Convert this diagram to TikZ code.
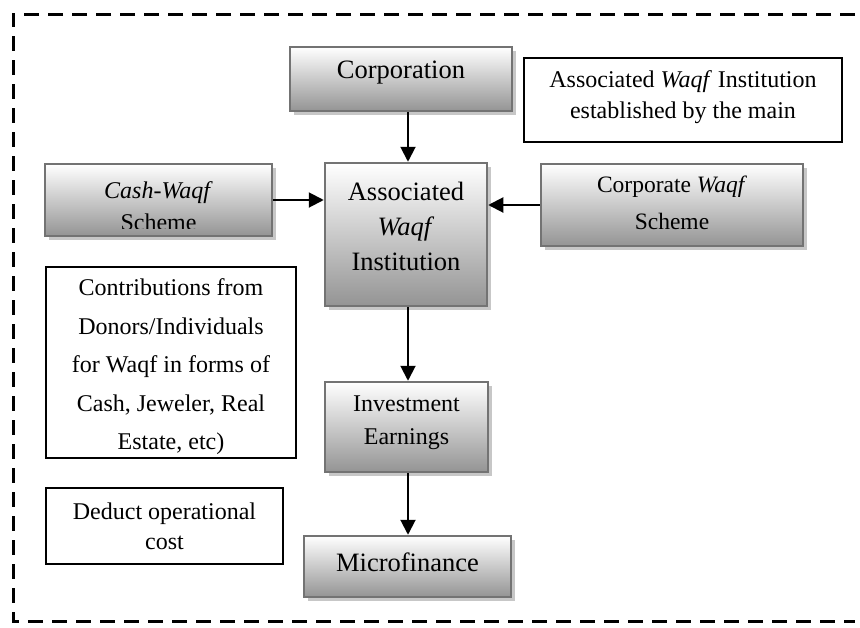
\documentclass[tikz,border=0pt]{standalone}
\usepackage{fontspec}
\setmainfont{Liberation Serif}
\usetikzlibrary{arrows.meta,shadows}
\begin{document}
\begin{tikzpicture}[x=1pt,y=-1pt,
  gbox/.style={draw=black!55, line width=2.5pt, top color=white, bottom color=black!42,
    drop shadow={shadow xshift=4pt,shadow yshift=-4pt,fill=black!22,opacity=1},
    inner sep=0pt},
  wbox/.style={draw=black, line width=1.8pt, fill=white, inner sep=0pt},
  txt/.style={align=center, inner sep=0pt, font=\fontsize{24}{32}\selectfont},
  bigtxt/.style={align=center, inner sep=0pt, font=\fontsize{26.5}{35}\selectfont},
  arr/.style={line width=2pt, -{Triangle[length=15pt,width=15pt]}}]
\useasboundingbox (0,0) rectangle (860,627);

% dashed frame
\draw[line width=3pt, dash pattern=on 15pt off 9pt] (855,14) -- (13,14) -- (13,621) -- (855,621);

% shaded boxes
\node[gbox, minimum width=222pt, minimum height=64pt] (corp) at (401,79) {};
\node[bigtxt] (corpt) at (401,73) {Corporation};

\node[gbox, minimum width=162pt, minimum height=143pt] (assoc) at (406,234.5) {};
\node[bigtxt] (assoct) at (406,226) {Associated\\\textit{Waqf}\\Institution};

\node[gbox, minimum width=227pt, minimum height=72pt] (cash) at (158.5,200) {};
\begin{scope}
  \clip (44,163) rectangle (273,228);
  \node[txt, font=\fontsize{24}{31.7}\selectfont] (casht) at (158.5,206) {\textit{Cash-Waqf}\\Scheme};
\end{scope}

\node[gbox, minimum width=262pt, minimum height=82pt] (corpws) at (672,205) {};
\node[txt, font=\fontsize{23.5}{36.5}\selectfont] (corpwst) at (672,203) {Corporate \textit{Waqf}\\Scheme};

\node[gbox, minimum width=163pt, minimum height=90pt] (inv) at (406.5,427) {};
\node[txt, font=\fontsize{24}{33}\selectfont] (invt) at (406.5,423) {Investment\\Earnings};

\node[gbox, minimum width=207pt, minimum height=61pt] (micro) at (407.5,566.5) {};
\node[bigtxt] (microt) at (407.5,562) {Microfinance};

% white boxes
\node[wbox, minimum width=318pt, minimum height=84pt] (est) at (683,100) {};
\node[txt, font=\fontsize{24}{31.7}\selectfont] (estt) at (683,97) {Associated \textit{Waqf} Institution\\established by the main};

\node[wbox, minimum width=250pt, minimum height=191pt] (contrib) at (171,362.5) {};
\node[txt, font=\fontsize{24}{38.5}\selectfont] (contribt) at (171,367) {Contributions from\\Donors/Individuals\\for Waqf in forms of\\Cash, Jeweler, Real\\Estate, etc)};

\node[wbox, minimum width=237pt, minimum height=76pt] (deduct) at (164.5,526) {};
\node[txt, font=\fontsize{24}{30}\selectfont] (deductt) at (164.5,526) {Deduct operational\\cost};

% connectors
\coordinate (ax) at (408,0);
\draw[arr] (corp.south -| ax) -- (assoc.north -| ax);
\draw[arr] (cash.east) -- (cash.east -| assoc.west);
\draw[arr] (corpws.west) -- (corpws.west -| assoc.east);
\draw[arr] (assoc.south -| ax) -- (inv.north -| ax);
\draw[arr] (inv.south -| ax) -- (micro.north -| ax);
\end{tikzpicture}
\end{document}
